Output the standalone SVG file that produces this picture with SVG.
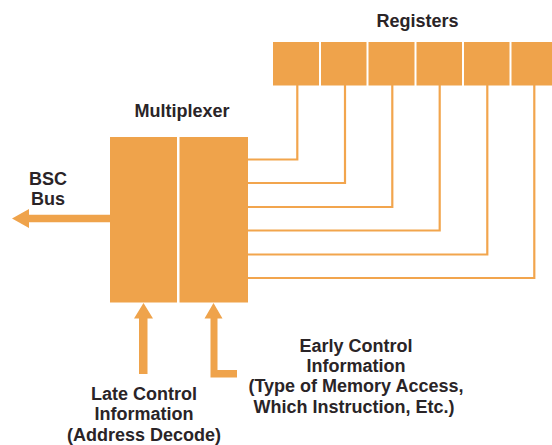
<svg xmlns="http://www.w3.org/2000/svg" width="552" height="445" viewBox="0 0 552 445">
<style>
.blk{fill:#EFA34B}
.ln{fill:none;stroke:#F2A54D;stroke-width:2.2}
.t{font-family:"Liberation Sans",Arial,sans-serif;font-weight:bold;font-size:18px;fill:#2a2427;text-anchor:middle}
</style>
<rect width="552" height="445" fill="#ffffff"/>
<g id="registers">
<rect class="blk" x="273" y="42" width="46" height="43.5"/>
<rect class="blk" x="321" y="42" width="45.5" height="43.5"/>
<rect class="blk" x="368.5" y="42" width="46" height="43.5"/>
<rect class="blk" x="416.5" y="42" width="45.5" height="43.5"/>
<rect class="blk" x="464" y="42" width="45.5" height="43.5"/>
<rect class="blk" x="511.5" y="42" width="45" height="43.5"/>
<text class="t" x="417.5" y="26.5">Registers</text>
</g>
<g id="multiplexer">
<rect class="blk" x="110" y="137" width="67" height="165.5"/>
<rect class="blk" x="179.5" y="137" width="68.5" height="165.5"/>
<text class="t" x="182" y="116.5">Multiplexer</text>
</g>
<g id="connectors">
<polyline class="ln" points="297.3,85 297.3,159.5 248,159.5"/>
<polyline class="ln" points="345,85 345,183 248,183"/>
<polyline class="ln" points="392.3,85 392.3,207 248,207"/>
<polyline class="ln" points="439.7,85 439.7,230.5 248,230.5"/>
<polyline class="ln" points="487.3,85 487.3,254.5 248,254.5"/>
<polyline class="ln" points="534.3,85 534.3,278 248,278"/>
</g>
<g id="bsc-bus">
<polygon class="blk" points="110,214.8 29,214.8 29,209 12,218.5 29,228 29,222.2 110,222.2"/>
<text class="t" x="48" y="185">BSC</text>
<text class="t" x="48" y="205">Bus</text>
</g>
<g id="late-control">
<polygon class="blk" points="143.5,303 153,318.5 147.5,318.5 147.5,374 139,374 139,318.5 134,318.5"/>
<text class="t" x="144" y="399.5">Late Control</text>
<text class="t" x="144" y="420">Information</text>
<text class="t" x="144" y="440.5">(Address Decode)</text>
</g>
<g id="early-control">
<polygon class="blk" points="213.5,303 222.5,318.5 217.5,318.5 217.5,370 237,370 237,377.5 210.5,377.5 210.5,318.5 204.5,318.5"/>
<text class="t" x="356" y="352">Early Control</text>
<text class="t" x="356" y="372">Information</text>
<text class="t" x="356" y="392">(Type of Memory Access,</text>
<text class="t" x="354" y="413">Which Instruction, Etc.)</text>
</g>
</svg>
